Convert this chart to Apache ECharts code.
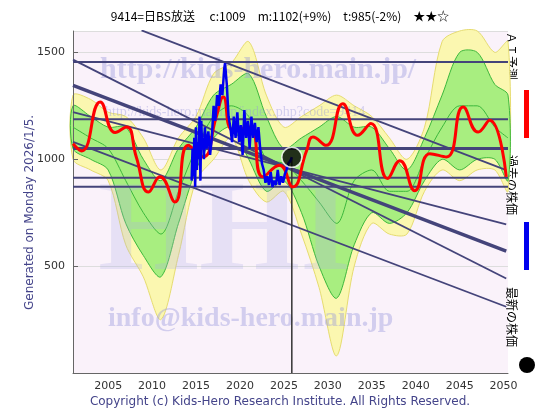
<!DOCTYPE html>
<html><head><meta charset="utf-8">
<script src="https://cdn.jsdelivr.net/npm/echarts@6/dist/echarts.min.js"></script>
<style>html,body{margin:0;padding:0;background:#fff}#c{width:560px;height:420px}</style>
</head><body><div id="c"></div>
<script>
const xTicks=[2005,2010,2015,2020,2025,2030,2035,2040,2045,2050];
const bandYears=[2001,2003,2005,2007,2009,2011,2013,2015,2017,2019,2021,2023,2025,2027,2029,2031,2033,2035,2037,2039,2041,2043,2045,2047,2049,2050.5];
const yellowLow=[1000,950,900,600,450,250,550,900,1000,1100,900,800,850,650,400,80,500,700,650,650,850,950,900,950,950,850];
const greenLow=[1050,1000,950,700,550,450,700,950,1100,1150,1000,850,900,750,500,350,600,750,700,750,900,1000,950,1000,1000,900];
const greenHigh=[1250,1200,1150,1150,1000,900,1050,1150,1300,1350,1400,1200,1050,1100,1150,1200,1150,1150,1050,950,1100,1300,1500,1500,1350,1300];
const yellowHigh=[1300,1280,1220,1200,1100,950,1100,1200,1400,1450,1550,1300,1150,1200,1250,1300,1250,1200,1100,1000,1150,1550,1600,1600,1500,1550];
const greenMid=[1150,1100,1050,900,750,650,850,1050,1200,1250,1200,1000,980,900,800,700,900,950,850,850,1000,1150,1250,1250,1150,1100];
const aiYears=[2001.0,2002.0,2004.1,2005.8,2007.1,2008.2,2009.6,2010.9,2012.6,2014.1,2015.8,2017.3,2018.1,2019.2,2021.1,2022.6,2024.5,2026.0,2027.6,2028.3,2029.8,2031.7,2033.4,2034.9,2036.8,2038.2,2039.9,2041.6,2043.5,2045.4,2047.1,2048.4,2050.3];
const aiValues=[1073,1039,1268,1125,1151,1011,847,918,800,1065,1011,1198,1291,1136,1151,918,972,871,1042,1104,1065,1260,1112,1167,910,993,853,1026,1011,1244,1127,1182,918];
const pastYears=[2014.5,2014.6,2014.7,2014.8,2014.9,2015.0,2015.1,2015.2,2015.3,2015.4,2015.5,2015.6,2015.7,2015.8,2015.9,2016.0,2016.2,2016.4,2016.6,2016.8,2017.0,2017.2,2017.4,2017.6,2017.8,2018.0,2018.2,2018.3,2018.5,2018.7,2018.9,2019.1,2019.3,2019.5,2019.7,2019.9,2020.1,2020.3,2020.5,2020.7,2020.9,2021.1,2021.3,2021.5,2021.7,2021.9,2022.1,2022.3,2022.5,2022.7,2022.9,2023.1,2023.3,2023.5,2023.7,2023.9,2024.1,2024.3,2024.5,2024.7,2024.9,2025.1,2025.3,2025.5,2025.7,2025.9];
const pastValues=[900,1050,920,1100,870,1150,950,1080,1000,1200,900,1180,1050,1100,1000,1150,1050,1130,1020,1100,1250,1180,1300,1250,1350,1300,1420,1450,1350,1200,1150,1080,1200,1100,1220,1080,1160,1020,1230,1100,1180,1050,1200,1100,1170,1080,1150,1050,980,950,890,920,880,940,870,900,880,950,880,920,890,930,950,980,990,1009];
const hLines=[1455,1187,1050,913,871];
const diagLines=[[2001,1346,2050.3,570],[2001,1466,2050.3,442],[2008.8,1603,2050.3,949],[2001,1221,2050.3,695],[2001,1081,2050.3,310]];
const latest=[2025.9,1009];

function band(lo,hi,fill,stroke,z){
 return {type:'custom',z:z,silent:true,data:[0],
  renderItem:function(params,api){
   const top=bandYears.map((y,i)=>api.coord([y,hi[i]]));
   const bot=bandYears.map((y,i)=>api.coord([y,lo[i]])).reverse();
   return {type:'polygon',shape:{points:top.concat(bot),smooth:0.3},style:{fill:fill,stroke:stroke,lineWidth:1}};
  }};
}
const pts=(ys)=>bandYears.map((y,i)=>[y,ys[i]]);
const series=[];
series.push(band(yellowLow,yellowHigh,'#fbf7b0','#e6dc70',0));
series.push(band(greenLow,greenHigh,'#a8ee80','#3cb83c',0));
series.push({type:'line',z:0,data:pts(greenMid),symbol:'none',smooth:0.3,lineStyle:{width:1,color:'#3cb83c'}});
hLines.forEach((v,i)=>series.push({type:'line',data:[[2001,v],[2050.5,v]],symbol:'none',lineStyle:{width:i===2?3:2,color:'#44447a'}}));
diagLines.forEach((d,i)=>series.push({type:'line',data:[[d[0],d[1]],[d[2],d[3]]],symbol:'none',lineStyle:{width:i===0?3.5:1.8,color:'#44447a'}}));
series.push({type:'line',data:[[latest[0],0],[latest[0],latest[1]]],symbol:'none',lineStyle:{width:1.5,color:'#333'}});
series.push({type:'line',zlevel:1,data:aiYears.map((y,i)=>[y,aiValues[i]]),symbol:'none',smooth:0.5,lineStyle:{width:3,color:'#ff0000'}});
series.push({type:'line',zlevel:1,data:pastYears.map((y,i)=>[y,pastValues[i]]),symbol:'none',lineStyle:{width:2.5,color:'#0000ee'}});
series.push({type:'scatter',zlevel:1,z:5,data:[latest],symbolSize:20,itemStyle:{color:'#000',borderColor:'#fff',borderWidth:1.5}});

const wm='rgba(150,150,220,0.4)';
const chart=echarts.init(document.getElementById('c'));
chart.setOption({
 animation:false,backgroundColor:'#fff',
 grid:{left:73,right:52,top:31,bottom:47},
 xAxis:{type:'value',min:2001,max:2050.5,
  axisTick:{show:false},axisLine:{lineStyle:{color:'#666'}},
  axisLabel:{customValues:xTicks,formatter:v=>String(v),fontSize:11,color:'#333',fontFamily:'DejaVu Sans'},
  splitLine:{show:false}},
 yAxis:{type:'value',min:0,max:1600,interval:500,
  axisLine:{show:true,lineStyle:{color:'#666'}},axisTick:{show:true,inside:true,lineStyle:{color:'#666'}},
  axisLabel:{showMinLabel:false,showMaxLabel:false,formatter:v=>String(v),fontSize:11,color:'#333',fontFamily:'DejaVu Sans'},
  splitLine:{lineStyle:{color:'#ddd'}}},
 series:series,
 graphic:[
  {type:'rect',z:-10,shape:{x:73,y:31,width:435,height:342},style:{fill:'#faf2fa'}},
  {type:'text',left:'center',top:10,style:{text:'9414=日BS放送　 c:1009　m:1102(+9%)　t:985(-2%)　★★☆',fontSize:12,fill:'#000',fontFamily:'Noto Sans CJK JP'}},
  {type:'text',x:100,y:55,z:1,style:{text:'http://kids-hero.main.jp/',fontSize:30,fontWeight:'bold',fill:wm,fontFamily:'Liberation Serif'}},
  {type:'text',x:105,y:105,z:1,style:{text:'http://kids-hero.main.jp/index.php?code=9414',fontSize:14,fill:wm,fontFamily:'Liberation Serif'}},
  {type:'text',x:98,y:170,z:1,style:{text:'HHI',fontSize:130,fontWeight:'bold',fill:'rgba(170,170,230,0.25)',fontFamily:'Liberation Serif'}},
  {type:'text',x:108,y:305,z:1,style:{text:'info@kids-hero.main.jp',fontSize:28,fontWeight:'bold',fill:wm,fontFamily:'Liberation Serif'}},
  {type:'text',x:24,y:310,rotation:Math.PI/2,style:{text:'Generated on Monday 2026/1/5.',fontSize:12,fill:'#44448a',fontFamily:'DejaVu Sans'}},
  {type:'text',left:'center',top:396,style:{text:'Copyright (c) Kids-Hero Research Institute. All Rights Reserved.',fontSize:12,fill:'#44448a',fontFamily:'DejaVu Sans'}},
  {type:'text',x:518,y:32,rotation:-Math.PI/2,style:{text:'ＡＩ予測',fontSize:12,fill:'#000',fontFamily:'Noto Sans CJK JP'}},
  {type:'rect',shape:{x:524,y:90,width:5,height:48},style:{fill:'#ff0000'}},
  {type:'text',x:518,y:155,rotation:-Math.PI/2,style:{text:'過去の株価',fontSize:12,fill:'#000',fontFamily:'Noto Sans CJK JP'}},
  {type:'rect',shape:{x:524,y:222,width:5,height:48},style:{fill:'#0000ee'}},
  {type:'text',x:518,y:287,rotation:-Math.PI/2,style:{text:'最新の株価',fontSize:12,fill:'#000',fontFamily:'Noto Sans CJK JP'}},
  {type:'circle',shape:{cx:527,cy:365,r:8},style:{fill:'#000'}}
 ]
});
</script></body></html>
